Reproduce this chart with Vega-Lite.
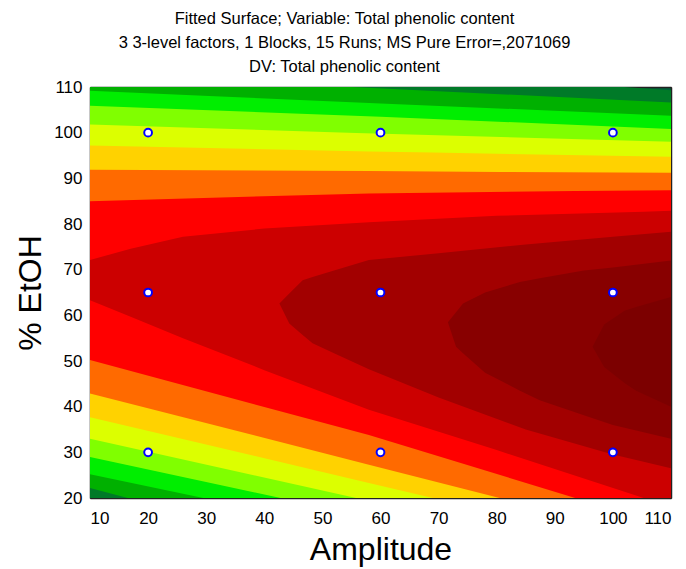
{
  "$schema": "https://vega.github.io/schema/vega-lite/v6.json",
  "autosize": {"type": "none"},
  "width": 581,
  "height": 411,
  "padding": {"left": 90, "top": 87, "right": 15, "bottom": 71},
  "title": {
    "text": ["Fitted Surface; Variable: Total phenolic content", "3 3-level factors, 1 Blocks, 15 Runs; MS Pure Error=,2071069", "DV: Total phenolic content"],
    "fontSize": 16.5,
    "font": "Liberation Sans",
    "fontWeight": "normal",
    "color": "#000",
    "lineHeight": 24,
    "anchor": "middle",
    "frame": "group",
    "dx": -36,
    "offset": 3
  },
  "datasets": {
    "bands": [
      {"level": "L01", "x": 10, "lo": 20, "hi": 110},
      {"level": "L01", "x": 102, "lo": 20, "hi": 110},
      {"level": "L01", "x": 110, "lo": 20, "hi": 109.3},
      {"level": "L02", "x": 10, "lo": 22.2, "hi": 110},
      {"level": "L02", "x": 16.5, "lo": 20, "hi": 110},
      {"level": "L02", "x": 55, "lo": 20, "hi": 110},
      {"level": "L02", "x": 110, "lo": 20, "hi": 106.6},
      {"level": "L03", "x": 10, "lo": 25.2, "hi": 109.2},
      {"level": "L03", "x": 29.5, "lo": 20, "hi": 108.1},
      {"level": "L03", "x": 60, "lo": 20, "hi": 106.4},
      {"level": "L03", "x": 110, "lo": 20, "hi": 103.7},
      {"level": "L04", "x": 10, "lo": 29.0, "hi": 105.9},
      {"level": "L04", "x": 42.8, "lo": 20, "hi": 104.3},
      {"level": "L04", "x": 60, "lo": 20, "hi": 103.5},
      {"level": "L04", "x": 110, "lo": 20, "hi": 100.8},
      {"level": "L05", "x": 10, "lo": 33.0, "hi": 101.8},
      {"level": "L05", "x": 55.8, "lo": 20, "hi": 99.9},
      {"level": "L05", "x": 110, "lo": 20, "hi": 98.0},
      {"level": "L06", "x": 10, "lo": 37.7, "hi": 97.2},
      {"level": "L06", "x": 58, "lo": 23.3, "hi": 95.9},
      {"level": "L06", "x": 69, "lo": 20, "hi": 95.65},
      {"level": "L06", "x": 110, "lo": 20, "hi": 94.7},
      {"level": "L07", "x": 10, "lo": 42.9, "hi": 91.9},
      {"level": "L07", "x": 58, "lo": 27.3, "hi": 91.6},
      {"level": "L07", "x": 80.5, "lo": 20, "hi": 91.4},
      {"level": "L07", "x": 110, "lo": 20, "hi": 91.2},
      {"level": "L08", "x": 10, "lo": 50.2, "hi": 85.0},
      {"level": "L08", "x": 58, "lo": 33.8, "hi": 86.7},
      {"level": "L08", "x": 93.5, "lo": 20, "hi": 87.2},
      {"level": "L08", "x": 110, "lo": 20, "hi": 87.4},
      {"level": "L09", "x": 10, "lo": 63.3, "hi": 72.1},
      {"level": "L09", "x": 17, "lo": 59.7, "hi": 74.6},
      {"level": "L09", "x": 26, "lo": 55.0, "hi": 77.2},
      {"level": "L09", "x": 40, "lo": 48.0, "hi": 79.0},
      {"level": "L09", "x": 58, "lo": 39.3, "hi": 80.4},
      {"level": "L09", "x": 80, "lo": 30.5, "hi": 81.8},
      {"level": "L09", "x": 105.3, "lo": 20, "hi": 82.7},
      {"level": "L09", "x": 110, "lo": 20, "hi": 82.9},
      {"level": "L10", "x": 42.6, "lo": 62.6, "hi": 62.6},
      {"level": "L10", "x": 44.3, "lo": 58.2, "hi": 64.8},
      {"level": "L10", "x": 46.6, "lo": 55.7, "hi": 67.7},
      {"level": "L10", "x": 48.3, "lo": 53.9, "hi": 68.4},
      {"level": "L10", "x": 52, "lo": 51.7, "hi": 69.8},
      {"level": "L10", "x": 58, "lo": 48.2, "hi": 72.1},
      {"level": "L10", "x": 70, "lo": 42.0, "hi": 73.6},
      {"level": "L10", "x": 85, "lo": 35.0, "hi": 75.5},
      {"level": "L10", "x": 100, "lo": 29.5, "hi": 77.2},
      {"level": "L10", "x": 110, "lo": 26.5, "hi": 78.3},
      {"level": "L11", "x": 71.6, "lo": 58.5, "hi": 58.5},
      {"level": "L11", "x": 73, "lo": 53.1, "hi": 60.7},
      {"level": "L11", "x": 74.2, "lo": 51.7, "hi": 62.6},
      {"level": "L11", "x": 78, "lo": 47.4, "hi": 65.0},
      {"level": "L11", "x": 84, "lo": 43.5, "hi": 67.3},
      {"level": "L11", "x": 87.4, "lo": 41.4, "hi": 68.1},
      {"level": "L11", "x": 95, "lo": 38.1, "hi": 69.8},
      {"level": "L11", "x": 100, "lo": 36.0, "hi": 70.5},
      {"level": "L11", "x": 110, "lo": 33.0, "hi": 72.0},
      {"level": "L12", "x": 96.5, "lo": 53.1, "hi": 53.1},
      {"level": "L12", "x": 98.5, "lo": 48.7, "hi": 58.0},
      {"level": "L12", "x": 102, "lo": 45.2, "hi": 61.0},
      {"level": "L12", "x": 104, "lo": 43.5, "hi": 61.8},
      {"level": "L12", "x": 110, "lo": 40.0, "hi": 64.0}
    ],
    "runs": [
      {"amplitude": 20, "etoh": 30}, {"amplitude": 20, "etoh": 65}, {"amplitude": 20, "etoh": 100},
      {"amplitude": 60, "etoh": 30}, {"amplitude": 60, "etoh": 65}, {"amplitude": 60, "etoh": 100},
      {"amplitude": 100, "etoh": 30}, {"amplitude": 100, "etoh": 65}, {"amplitude": 100, "etoh": 100}
    ]
  },
  "layer": [
    {
      "data": {"name": "bands"},
      "mark": {"type": "area", "interpolate": "linear", "clip": true},
      "encoding": {
        "x": {
          "field": "x", "type": "quantitative",
          "scale": {"domain": [10, 110], "nice": false, "zero": false},
          "axis": {"title": "Amplitude", "values": [10, 20, 30, 40, 50, 60, 70, 80, 90, 100, 110], "tickSize": -5, "labelPadding": 17, "titlePadding": 8, "labelFontSize": 17, "titleFontSize": 32}
        },
        "y": {
          "field": "lo", "type": "quantitative",
          "scale": {"domain": [20, 110], "nice": false, "zero": false},
          "axis": {"title": "% EtOH", "values": [20, 30, 40, 50, 60, 70, 80, 90, 100, 110], "tickSize": -5, "labelPadding": 13, "titlePadding": 6, "labelFontSize": 17, "titleFontSize": 32}
        },
        "y2": {"field": "hi"},
        "color": {
          "field": "level", "type": "nominal", "legend": null,
          "scale": {
            "domain": ["L01", "L02", "L03", "L04", "L05", "L06", "L07", "L08", "L09", "L10", "L11", "L12"],
            "range": ["#007a28", "#00b000", "#00ee00", "#80ff00", "#dcff00", "#ffd200", "#ff6a00", "#ff0000", "#cc0000", "#a20000", "#880000", "#7c0000"]
          }
        }
      }
    },
    {
      "data": {"name": "runs"},
      "mark": {"type": "point", "shape": "circle", "filled": true, "fill": "#ffffff", "stroke": "#0000ff", "strokeWidth": 2, "size": 60, "opacity": 1},
      "encoding": {
        "x": {
          "field": "amplitude", "type": "quantitative",
          "scale": {"domain": [10, 110], "nice": false, "zero": false},
          "axis": {"orient": "top", "title": null, "labels": false, "values": [10, 20, 30, 40, 50, 60, 70, 80, 90, 100, 110], "tickSize": -5}
        },
        "y": {
          "field": "etoh", "type": "quantitative",
          "scale": {"domain": [20, 110], "nice": false, "zero": false},
          "axis": {"orient": "right", "title": null, "labels": false, "values": [20, 30, 40, 50, 60, 70, 80, 90, 100, 110], "tickSize": -5}
        }
      }
    }
  ],
  "resolve": {"axis": {"x": "independent", "y": "independent"}},
  "config": {
    "view": {"fill": "#00603a", "stroke": null},
    "axis": {
      "labelFont": "Liberation Sans", "titleFont": "Liberation Sans",
      "labelColor": "#000", "titleColor": "#000", "titleFontWeight": "normal",
      "domainColor": "#222", "domainWidth": 1.5, "tickColor": "#222", "tickWidth": 1,
      "grid": false
    }
  }
}
